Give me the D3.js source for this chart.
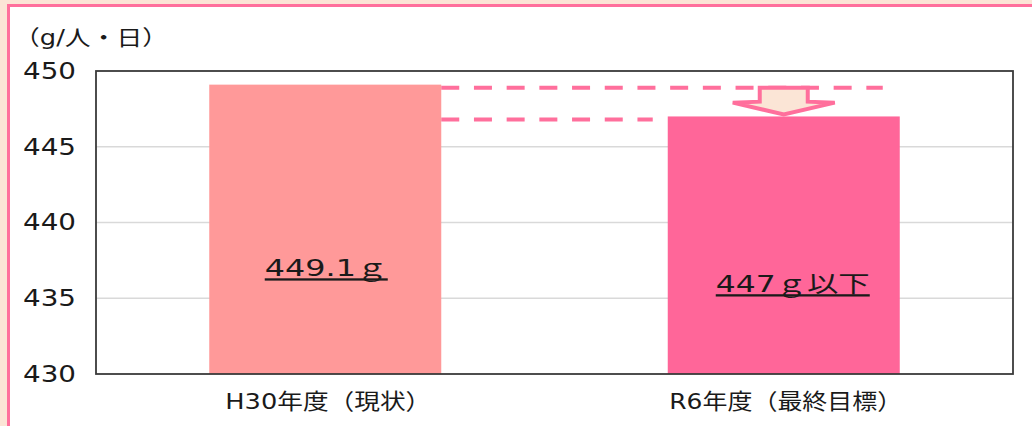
<!DOCTYPE html>
<html>
<head>
<meta charset="utf-8">
<script src="https://cdn.jsdelivr.net/npm/d3@7"></script>
<style>
  html, body { margin: 0; padding: 0; background: #FCE4D6; }
  svg { display: block; }
  text { font-family: "DejaVu Sans", "Noto Sans CJK JP", sans-serif; fill: #1a1a1a; }
</style>
</head>
<body>
<svg id="chart" width="1032" height="426"></svg>
<script>
// Daily waste per person (g/人・日): current level vs. target
const categories = ["H30年度（現状）", "R6年度（最終目標）"];
const values = [449.1, 447];
const valueLabels = ["449.1ｇ", "447ｇ以下"];
const barColors = ["#FF9999", "#FF6699"];
const yTicks = [430, 435, 440, 445, 450];
const unitLabel = "（g/人・日）";

(function draw() {
const W = 1032, H = 426;
const margin = { left: 96, top: 71, right: 1013, bottom: 374 };
const svg = d3.select("#chart");

// wide lettering: stretch glyphs to a set run length
const stretch = (sel, len) => sel.attr("textLength", len).attr("lengthAdjust", "spacingAndGlyphs");

// framed panel
svg.append("rect").attr("x", 0).attr("y", 0).attr("width", W).attr("height", H).attr("fill", "#FCE4D6");
svg.append("rect")
  .attr("x", 8.5).attr("y", 5.5).attr("width", W + 20).attr("height", H + 20)
  .attr("fill", "#ffffff").attr("stroke", "#FF6F9C").attr("stroke-width", 3);

const x = d3.scaleBand().domain(categories).range([margin.left, margin.right]).paddingInner(0.494).paddingOuter(0.247);
const y = d3.scaleLinear().domain([430, 450]).range([margin.bottom, margin.top]);

// gridlines
svg.append("g").selectAll("line").data(yTicks.slice(1, -1)).join("line")
  .attr("x1", margin.left).attr("x2", margin.right)
  .attr("y1", d => y(d)).attr("y2", d => y(d))
  .attr("stroke", "#d9d9d9").attr("stroke-width", 1.5);

// bars
svg.append("g").selectAll("rect").data(values).join("rect")
  .attr("x", (d, i) => x(categories[i]))
  .attr("width", x.bandwidth())
  .attr("y", d => y(d))
  .attr("height", d => y(430) - y(d))
  .attr("fill", (d, i) => barColors[i]);

// plot frame
svg.append("rect")
  .attr("x", margin.left).attr("y", margin.top)
  .attr("width", margin.right - margin.left).attr("height", margin.bottom - margin.top)
  .attr("fill", "none").attr("stroke", "#3a3a3a").attr("stroke-width", 1.8);

// y axis tick labels
const yAxis = d3.axisLeft(y).tickValues(yTicks).tickSize(0).tickPadding(20).tickFormat(d3.format("d"));
const gy = svg.append("g").attr("transform", `translate(${margin.left},0)`).call(yAxis);
gy.select(".domain").remove();
gy.selectAll("text").attr("font-size", 23).attr("fill", "#1a1a1a")
  .style("font-family", "'DejaVu Sans', sans-serif")
  .call(stretch, 53);

// unit label
svg.append("text").attr("x", 14).attr("y", 45).attr("font-size", 21)
  .text(unitLabel).call(stretch, 154);

// category labels
const catLen = [206, 233];
const catShift = [3, 2];
const xAxis = d3.axisBottom(x).tickSize(0).tickPadding(19);
const gx = svg.append("g").attr("transform", `translate(0,${margin.bottom})`).call(xAxis);
gx.select(".domain").remove();
gx.selectAll("text").attr("font-size", 22).attr("fill", "#1a1a1a")
  .style("font-family", "'DejaVu Sans', 'Noto Sans CJK JP', sans-serif")
  .attr("dx", (d, i) => catShift[i])
  .each(function (d, i) { stretch(d3.select(this), catLen[i]); });

// value labels, underlined
const labelOffsets = [1, 9];
const labelLen = [123, 154];
svg.append("g").selectAll("text").data(values).join("text")
  .attr("x", (d, i) => x(categories[i]) + x.bandwidth() / 2 + labelOffsets[i])
  .attr("y", d => (y(d) + y(430)) / 2 + 47)
  .attr("text-anchor", "middle")
  .attr("font-size", 23)
  .attr("text-decoration", "underline")
  .text((d, i) => valueLabels[i])
  .each(function (d, i) { stretch(d3.select(this), labelLen[i]); });

// dashed reference lines at each level
const dashColor = "#FF6F9C";
const lvl0 = y(values[0]) + 3, lvl1 = y(values[1]) + 3;
svg.append("line")
  .attr("x1", x(categories[0]) + x.bandwidth()).attr("x2", x(categories[1]) + x.bandwidth() - 17)
  .attr("y1", lvl0).attr("y2", lvl0)
  .attr("stroke", dashColor).attr("stroke-width", 4).attr("stroke-dasharray", "18 14.7");
svg.append("line")
  .attr("x1", x(categories[0]) + x.bandwidth()).attr("x2", x(categories[1]) - 15)
  .attr("y1", lvl1).attr("y2", lvl1)
  .attr("stroke", dashColor).attr("stroke-width", 4).attr("stroke-dasharray", "18 14.7");

// downward block arrow between the two levels
const cx = x(categories[1]) + x.bandwidth() / 2;
const aTop = lvl0, aNeck = lvl0 + 14, aTip = lvl1 - 5;
const arrow = [
  [cx - 24, aTop], [cx + 24, aTop], [cx + 24, aNeck], [cx + 51, aNeck + 1],
  [cx, aTip], [cx - 51, aNeck + 1], [cx - 24, aNeck]
];
svg.append("path")
  .attr("d", d3.line()(arrow) + "Z")
  .attr("fill", "#FBE5D6").attr("stroke", dashColor).attr("stroke-width", 4).attr("stroke-linejoin", "miter");
})();
</script>
</body>
</html>
